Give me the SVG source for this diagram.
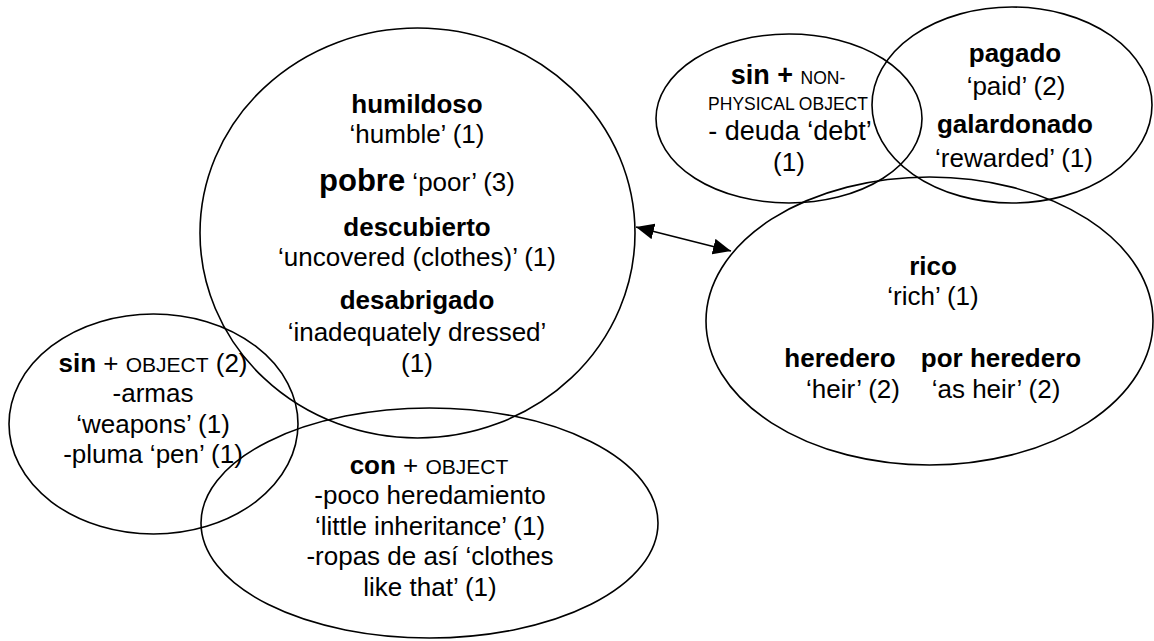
<svg xmlns="http://www.w3.org/2000/svg" width="1154" height="641" viewBox="0 0 1154 641">
<defs>
<style>
.shape{fill:none;stroke:#000;stroke-width:1.6}
text{font-family:"Liberation Sans",Arial,sans-serif;font-size:26px;fill:#000;text-anchor:middle}
.b{font-weight:bold}
.sc{font-size:21px}
.sc2{font-size:17.5px}
.big{font-size:31px;font-weight:bold}
.l27{font-size:27px}
.conn{stroke:#000;stroke-width:1.6;fill:none}
</style>
<marker id="ah" viewBox="0 0 18 16" refX="18" refY="8" markerWidth="18" markerHeight="16" markerUnits="userSpaceOnUse" orient="auto-start-reverse">
<path d="M0,0 L18,8 L0,16 z" fill="#000"/>
</marker>
</defs>
<rect width="1154" height="641" fill="#fff"/>

<g id="connectors">
<line class="conn" x1="636" y1="227" x2="731" y2="251" marker-start="url(#ah)" marker-end="url(#ah)"/>
</g>

<g id="node-poor">
<ellipse class="shape" cx="417.5" cy="233" rx="217.5" ry="205"/>
<text x="417" y="113" class="b">humildoso</text>
<text x="417" y="143">‘humble’ (1)</text>
<text x="417" y="191"><tspan class="big">pobre</tspan> ‘poor’ (3)</text>
<text x="417" y="236" class="b">descubierto</text>
<text x="417" y="266">‘uncovered (clothes)’ (1)</text>
<text x="417" y="309" class="b">desabrigado</text>
<text x="417" y="341">‘inadequately dressed’</text>
<text x="417" y="372">(1)</text>
</g>

<g id="node-sin-object">
<ellipse class="shape" cx="153.5" cy="424" rx="144.5" ry="110"/>
<text x="153" y="372"><tspan class="b">sin</tspan> + <tspan class="sc">OBJECT</tspan> (2)</text>
<text x="153" y="402">-armas</text>
<text x="153" y="433">‘weapons’ (1)</text>
<text x="153" y="463">-pluma ‘pen’ (1)</text>
</g>

<g id="node-con-object">
<ellipse class="shape" cx="429.5" cy="523" rx="228.5" ry="115"/>
<text x="429" y="474"><tspan class="b">con</tspan> + <tspan class="sc">OBJECT</tspan></text>
<text x="430" y="504">-poco heredamiento</text>
<text x="430" y="535">‘little inheritance’ (1)</text>
<text x="430" y="565">-ropas de así ‘clothes</text>
<text x="430" y="596">like that’ (1)</text>
</g>

<g id="node-sin-nonphysical">
<ellipse class="shape" cx="789" cy="118.5" rx="133" ry="84.5"/>
<text x="788" y="84" class="l27"><tspan class="b">sin +</tspan> <tspan class="sc2">NON-</tspan></text>
<text x="788" y="110" class="sc2">PHYSICAL OBJECT</text>
<text x="790" y="140" class="l27">- deuda ‘debt’</text>
<text x="789" y="171">(1)</text>
</g>

<g id="node-paid">
<ellipse class="shape" cx="1012" cy="105" rx="140" ry="98"/>
<text x="1015" y="62" class="b">pagado</text>
<text x="1016" y="95">‘paid’ (2)</text>
<text x="1015" y="133" class="b">galardonado</text>
<text x="1014" y="167">‘rewarded’ (1)</text>
</g>

<g id="node-rich">
<ellipse class="shape" cx="929.5" cy="321" rx="223.5" ry="144"/>
<text x="933" y="275" class="b">rico</text>
<text x="933" y="305">‘rich’ (1)</text>
<text x="840" y="367" class="b">heredero</text>
<text x="1001" y="367" class="b">por heredero</text>
<text x="853" y="398">‘heir’ (2)</text>
<text x="996" y="398">‘as heir’ (2)</text>
</g>
</svg>
